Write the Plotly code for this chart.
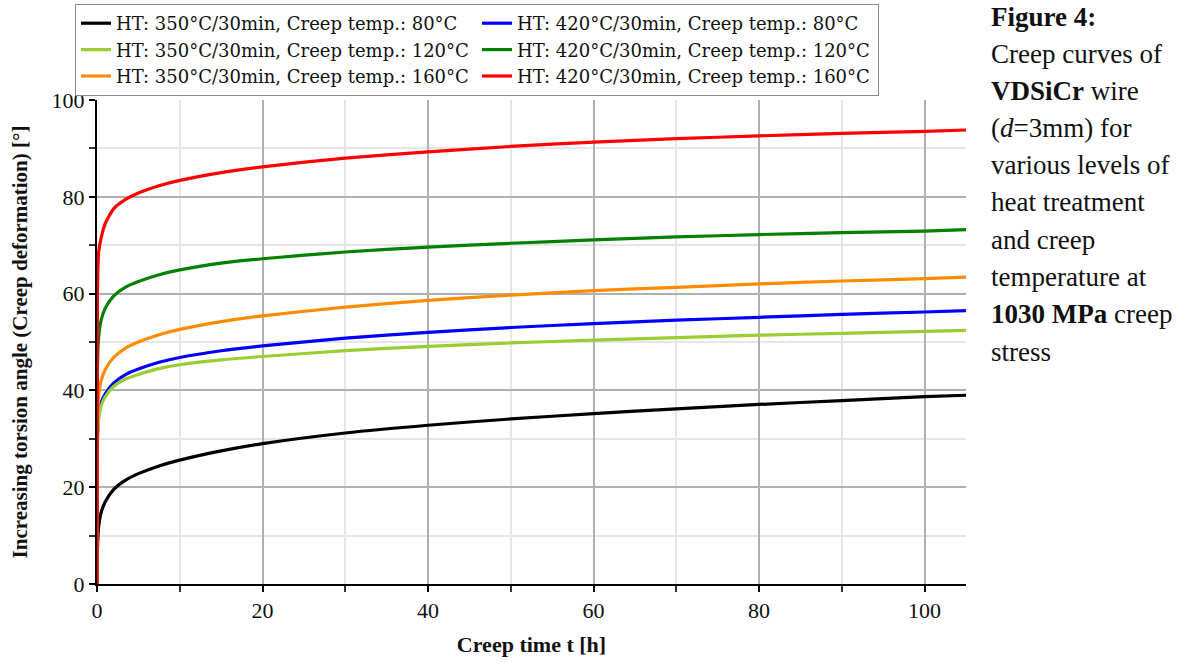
import plotly.graph_objects as go

# Creep time [h]
t_h = [0, 0.05, 0.2, 0.5, 1, 2, 3.5, 5, 7.5, 10, 15, 20, 30, 40, 50, 60, 70, 80, 90, 100, 105]

# Increasing torsion angle [°] for each heat treatment / creep temperature
ht350_80 = [0, 7, 11.8, 14.8, 17, 19.5, 21.5, 22.8, 24.4, 25.6, 27.5, 29, 31.2, 32.8, 34.1, 35.2, 36.2, 37.1, 37.9, 38.7, 39.0]
ht420_80 = [0, 30, 35, 37.5, 39.3, 41.5, 43.3, 44.4, 45.8, 46.8, 48.2, 49.2, 50.8, 52, 53, 53.8, 54.5, 55.1, 55.7, 56.2, 56.5]
ht350_120 = [0, 29, 34, 36.8, 38.7, 40.8, 42.4, 43.3, 44.5, 45.3, 46.3, 47, 48.2, 49.1, 49.8, 50.4, 50.9, 51.4, 51.8, 52.2, 52.4]
ht420_120 = [0, 44, 51, 54.5, 57, 59.5, 61.4, 62.5, 63.9, 64.9, 66.3, 67.2, 68.6, 69.6, 70.4, 71.1, 71.7, 72.2, 72.6, 72.9, 73.2]
ht350_160 = [0, 33, 39, 42, 44.3, 46.8, 48.8, 50, 51.5, 52.6, 54.2, 55.4, 57.2, 58.6, 59.7, 60.6, 61.3, 62, 62.6, 63.1, 63.4]
ht420_160 = [0, 60, 68.5, 71.5, 74.5, 77.5, 79.5, 80.8, 82.3, 83.4, 85, 86.2, 88, 89.3, 90.4, 91.3, 92, 92.6, 93.1, 93.5, 93.8]

series = [
    ("HT: 350°C/30min, Creep temp.: 80°C", ht350_80, "#000000"),
    ("HT: 420°C/30min, Creep temp.: 80°C", ht420_80, "#0000ff"),
    ("HT: 350°C/30min, Creep temp.: 120°C", ht350_120, "#9acd32"),
    ("HT: 420°C/30min, Creep temp.: 120°C", ht420_120, "#008000"),
    ("HT: 350°C/30min, Creep temp.: 160°C", ht350_160, "#ff8c00"),
    ("HT: 420°C/30min, Creep temp.: 160°C", ht420_160, "#ff0000"),
]

caption = [
    ("<b>Figure 4:</b>", 17),
    ("Creep curves of", 54),
    ("<b>VDSiCr</b> wire", 91),
    ("(<i>d</i>=3mm) for", 128),
    ("various levels of", 165),
    ("heat treatment", 202),
    ("and creep", 240),
    ("temperature at", 277),
    ("<b>1030 MPa</b> creep", 314),
    ("stress", 352),
]

fig = go.Figure()
for name, ys, color in series:
    fig.add_trace(go.Scatter(x=t_h, y=ys, mode="lines", name=name,
                             line=dict(color=color, width=3.2, shape="spline", smoothing=0.6)))

serif = "Liberation Serif, Times New Roman, serif"
L, R, T, B = 97, 222, 100, 79
W, H = 1188, 663
pw, ph = W - L - R, H - T - B

fig.update_layout(
    width=W, height=H,
    margin=dict(l=L, r=R, t=T, b=B, autoexpand=False),
    paper_bgcolor="white", plot_bgcolor="white",
    showlegend=True,
    legend=dict(
        orientation="h", x=(75 - L) / pw, xanchor="left", y=1 + (T - 4) / ph, yanchor="top",
        font=dict(family="DejaVu Serif", size=18, color="#111"),
        bordercolor="#888", borderwidth=1, bgcolor="white",
        entrywidth=356, entrywidthmode="pixels", tracegroupgap=0,
        itemwidth=30,
    ),
    xaxis=dict(
        range=[0, 105], tickvals=[0, 20, 40, 60, 80, 100],
        showline=True, linecolor="black", linewidth=2, zeroline=False,
        showgrid=True, gridcolor="#b0b0b0", gridwidth=1.5,
        ticks="outside", ticklen=6, tickwidth=2, tickcolor="black",
        minor=dict(dtick=10, showgrid=True, gridcolor="#e6e6e6", gridwidth=1.5,
                   ticks="outside", ticklen=6, tickwidth=1.5, tickcolor="#333"),
        tickfont=dict(family=serif, size=22, color="#111"),
        title=dict(text="<b>Creep time t [h]</b>", font=dict(family=serif, size=22, color="#111"), standoff=14),
    ),
    yaxis=dict(
        range=[0, 100], tickvals=[0, 20, 40, 60, 80, 100],
        showline=True, linecolor="black", linewidth=2, zeroline=False,
        showgrid=True, gridcolor="#b0b0b0", gridwidth=1.5,
        ticks="outside", ticklen=6, tickwidth=2, tickcolor="black",
        minor=dict(dtick=10, showgrid=True, gridcolor="#e6e6e6", gridwidth=1.5,
                   ticks="outside", ticklen=6, tickwidth=1.5, tickcolor="#333"),
        tickfont=dict(family=serif, size=22, color="#111"),
        title=dict(text="<b>Increasing torsion angle (Creep deformation) [°]</b>",
                   font=dict(family=serif, size=21, color="#111"), standoff=18),
    ),
)

for text, py in caption:
    fig.add_annotation(
        text=text, xref="paper", yref="paper",
        x=(989 - L) / pw, y=(H - B - py) / ph, xanchor="left", yanchor="middle",
        showarrow=False, align="left",
        font=dict(family=serif, size=27, color="#111"),
    )

fig.write_html("out.html")
